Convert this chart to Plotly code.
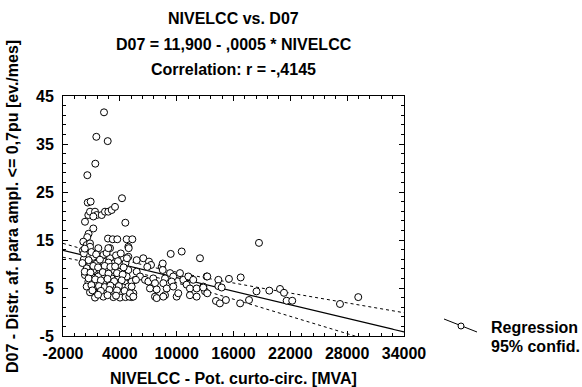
import numpy as np
import plotly.graph_objects as go

# ---------------- data ----------------
nivelcc = [
    # high outliers / upper group
    2330, 1520, 2720, 1410, 570, 610, 920, 4230,
    671, 850, 1378, 1554, 1202, 2086, 2434, 2783, 3140, 3490,
    322, 4580, 1200, 700, 560,
    2750, 3250, 3730, 4720, 5320,
    143, 499, 850,
    # main dense cluster
    850, 1730, 2962, 4897,
    675, 1202, 2258, 2962, 4370, 5777,
    147, 850, 1554, 2258, 3314, 4018,
    499, 1202, 1906, 2610, 3314, 4018, 4897,
    322, 1026, 1730, 2434, 3138, 3842, 4721, 5601,
    675, 1554, 2258, 2962, 3666, 4545, 5249,
    499, 1202, 1906, 2610, 3490, 4370, 5073,
    850, 1730, 2434, 3138, 4018, 4721, 5425,
    1378, 2258, 3314, 4018, 5249,
    1000, 1500, 2600, 3600, 4100, 200, 700, 1900, 2800, 3800, 4600,
    1200, 1700, 2400, 3000, 3500, 4400, 300, 900, 2200, 2800, 3700, 4300,
    700, 1400, 2000, 2700, 3400, 4200, 1000, 1800, 2400, 3000, 3900, 4900,
    1100, 2000, 2900, 3700, 4500, 2700, 3600, 4600, 1700, 5000,
    100, 200, 50, 300,
    4937, 4900, 4750, 2783,
    # middle range
    6477, 7080, 7290, 6900, 5780, 6130, 6660, 7010, 5700, 5250, 5070, 5420,
    7530, 7710, 7180, 7890, 7710, 7890, 8420, 8530, 8530,
    8770, 8590, 8950, 8770, 8590, 9370, 9300, 9640, 9470, 10000, 10170, 9640,
    10530, 10350, 10700, 11230, 11050, 11400, 11750, 11400, 12110, 12460,
    12110, 12810, 12990, 13170,
    13230, 12810, 13230, 14400, 14400, 14750, 14150, 14560, 15200, 15520,
    16760, 16700, 17640, 18690, 18430, 19780, 20910, 21330, 21610, 22200,
    27240, 29170,
]
d07 = [
    41.6, 36.5, 35.6, 30.9, 28.5, 22.8, 23.0, 23.7,
    20.2, 20.9, 20.9, 20.2, 19.9, 20.2, 20.9, 20.9, 21.25, 21.9,
    18.8, 18.6, 17.4, 16.3, 15.6,
    15.3, 15.15, 15.15, 15.15, 15.15,
    14.65, 13.95, 14.3,
    13.6, 13.3, 13.3, 13.6,
    11.9, 11.5, 11.9, 11.2, 11.2, 10.8,
    10.5, 10.1, 10.1, 10.5, 10.1, 9.8,
    9.1, 8.75, 8.75, 9.1, 8.75, 8.4, 8.75,
    7.7, 7.4, 7.4, 7.4, 7.0, 7.0, 7.4, 6.7,
    6.3, 6.0, 6.0, 6.0, 6.0, 6.0, 6.3,
    5.3, 5.0, 5.1, 4.7, 5.0, 5.1, 4.6,
    4.1, 3.9, 3.9, 4.1, 3.9, 3.7, 3.9,
    3.0, 3.2, 3.1, 3.0, 3.1,
    12.5, 12.0, 12.3, 11.8, 12.2, 11.0, 10.8, 10.9, 10.3, 10.6, 10.2,
    9.6, 9.3, 9.6, 9.4, 9.5, 9.3, 8.4, 8.2, 8.3, 8.0, 8.1, 7.8,
    7.0, 6.8, 6.6, 6.9, 6.4, 6.6, 5.6, 5.4, 5.2, 5.5, 5.4, 5.3,
    4.5, 4.4, 4.6, 4.5, 4.4, 3.5, 3.4, 3.1, 3.6, 3.2,
    12.8, 12.2, 10.2, 13.2,
    13.3, 11.5, 11.2, 13.3,
    11.2, 10.5, 9.8, 9.4, 8.4, 7.4, 6.7, 6.35, 6.7, 5.3, 3.9, 3.2,
    7.0, 6.0, 4.9, 4.7, 3.2, 2.9, 9.4, 10.1, 8.75,
    7.0, 6.0, 4.9, 3.5, 3.2, 12.1, 8.1, 7.4, 6.35, 3.2, 3.9, 5.3,
    12.6, 8.1, 6.7, 7.4, 5.7, 4.9, 6.7, 3.5, 3.2, 11.2,
    4.9, 5.3, 4.3, 7.4,
    7.4, 5.1, 3.9, 6.7, 5.4, 5.1, 2.3, 1.8, 2.5, 6.9,
    7.2, 1.8, 2.5, 14.4, 4.3, 4.45, 4.8, 4.0, 2.35, 2.35,
    1.67, 3.1,
]

x_tick_values = [-2000, 4000, 10000, 16000, 22000, 28000, 34000]
x_tick_labels = ["-2000", "4000", "10000", "16000", "22000", "28000", "34000"]
y_tick_values = [-5, 5, 15, 25, 35, 45]
y_tick_labels = ["-5", "5", "15", "25", "35", "45"]

# regression statistics (from the chart header / band shape)
INTERCEPT = 11.9
SLOPE = -0.000472
BAND_XMEAN = 6000.0
BAND_A = 0.87
BAND_B = 1.93e-8

X_RANGE = [-2000, 34000]
Y_RANGE = [-5, 45]

xs = np.linspace(X_RANGE[0], X_RANGE[1], 300)
fit = INTERCEPT + SLOPE * xs
half = np.sqrt(BAND_A + BAND_B * (xs - BAND_XMEAN) ** 2)

FONT = "Arial, Liberation Sans, sans-serif"
FS = 16

fig = go.Figure()
fig.add_trace(go.Scatter(x=xs, y=fit + half, mode="lines",
                         line=dict(color="black", width=1, dash="dot"),
                         showlegend=False, hoverinfo="skip"))
fig.add_trace(go.Scatter(x=xs, y=fit - half, mode="lines",
                         line=dict(color="black", width=1, dash="dot"),
                         showlegend=False, hoverinfo="skip"))
fig.add_trace(go.Scatter(x=xs, y=fit, mode="lines",
                         line=dict(color="black", width=1.2),
                         showlegend=False, hoverinfo="skip"))
fig.add_trace(go.Scatter(x=nivelcc, y=d07, mode="markers",
                         marker=dict(symbol="circle", size=7, color="white",
                                     line=dict(color="black", width=1)),
                         showlegend=False, cliponaxis=False))

# plot area in pixels: left 63, right 404, top 96, bottom 336
L, R, T, B = 63, 404, 96, 336
W, H = 582, 387
def px(x):
    return (x - L) / (R - L)
def py(y):
    return (B - y) / (B - T)

axis_common = dict(showgrid=False, zeroline=False, showline=True,
                   linecolor="black", linewidth=1, mirror="ticks",
                   ticks="inside", ticklen=5, tickcolor="black", tickwidth=1,
                   tickfont=dict(family=FONT, size=FS, color="black",
                                 weight="bold"))

fig.update_xaxes(range=X_RANGE, tickmode="array", tickvals=x_tick_values,
                 ticktext=x_tick_labels, ticklabelstandoff=3,
                 minor=dict(tick0=-2000, dtick=1200, ticks="inside",
                            ticklen=3, tickcolor="black"),
                 **axis_common)
fig.update_yaxes(range=Y_RANGE, tickmode="array", tickvals=y_tick_values,
                 ticktext=y_tick_labels, ticklabelstandoff=5,
                 minor=dict(tick0=-5, dtick=2, ticks="inside",
                            ticklen=3, tickcolor="black"),
                 **axis_common)

bold = dict(family=FONT, size=FS, color="black", weight="bold")
annots = []
title_lines = [("NIVELCC vs. D07", 18), ("D07 = 11,900 - ,0005 * NIVELCC", 44),
               ("Correlation: r = -,4145", 70)]
for txt, yy in title_lines:
    annots.append(dict(text=txt, x=px(233.5), y=py(yy), xref="paper", yref="paper",
                       showarrow=False, xanchor="center", yanchor="middle", font=bold))
annots.append(dict(text="NIVELCC - Pot. curto-circ. [MVA]", x=px(233.5), y=py(378),
                   xref="paper", yref="paper", showarrow=False,
                   xanchor="center", yanchor="middle", font=bold))
annots.append(dict(text="D07 - Distr. af. para ampl. <= 0,7pu [ev./mes]",
                   x=px(12), y=py(207), xref="paper", yref="paper", showarrow=False,
                   textangle=-90, xanchor="center", yanchor="middle", font=bold))
annots.append(dict(text="Regression", x=px(489), y=py(327), xref="paper", yref="paper",
                   showarrow=False, xanchor="left", yanchor="middle", font=bold))
annots.append(dict(text="95% confid.", x=px(489), y=py(346), xref="paper", yref="paper",
                   showarrow=False, xanchor="left", yanchor="middle", font=bold))

shapes = [
    dict(type="line", xref="paper", yref="paper", x0=px(444), y0=py(319),
         x1=px(477), y1=py(332), line=dict(color="black", width=1)),
    dict(type="circle", xref="paper", yref="paper", x0=px(458), y0=py(323),
         x1=px(464), y1=py(329), fillcolor="white", line=dict(color="black", width=1)),
]

fig.update_layout(width=W, height=H, margin=dict(l=L, r=W - R, t=T, b=H - B),
                  paper_bgcolor="white", plot_bgcolor="white",
                  annotations=annots, shapes=shapes, showlegend=False)

fig.write_html("out.html")
